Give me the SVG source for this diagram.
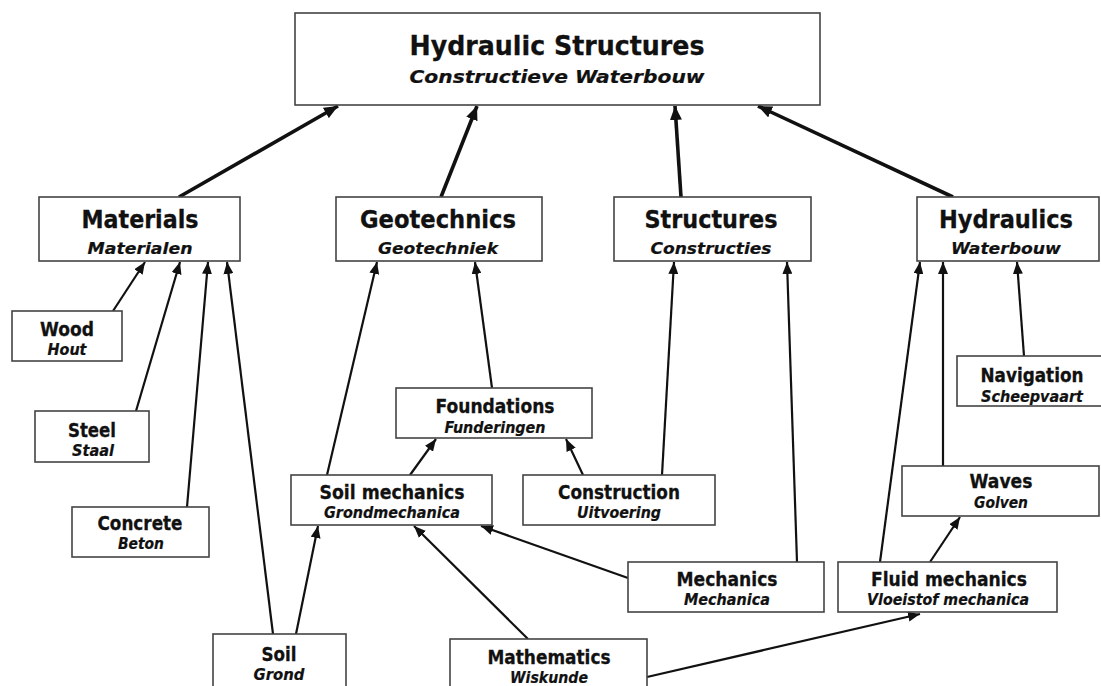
<svg xmlns="http://www.w3.org/2000/svg" width="1101" height="686" viewBox="0 0 1101 686">
<style>
.box{fill:#fff;stroke:#444;stroke-width:1.6}
.t{font-family:"DejaVu Sans",Verdana,sans-serif;font-weight:bold;fill:#111;stroke:#111;stroke-width:0.3;text-anchor:middle}
.s{font-family:"DejaVu Sans",Verdana,sans-serif;font-weight:bold;font-style:italic;fill:#111;stroke:#111;stroke-width:0.2;text-anchor:middle}
.c{stroke:#111;stroke-width:2.2;fill:none;marker-end:url(#ah)}
.ct{stroke:#111;stroke-width:3.6;fill:none;marker-end:url(#ahb)}
</style>
<defs>
<marker id="ah" markerUnits="userSpaceOnUse" markerWidth="12" markerHeight="10" refX="12" refY="5" orient="auto" viewBox="0 0 12 10"><path d="M0,0 L12,5 L0,10 z" fill="#111"/></marker>
<marker id="ahb" markerUnits="userSpaceOnUse" markerWidth="14" markerHeight="12" refX="14" refY="6" orient="auto" viewBox="0 0 14 12"><path d="M0,0 L14,6 L0,12 z" fill="#111"/></marker>
</defs>
<rect width="1101" height="686" fill="#fff"/>
<g id="connectors">
<line class="ct" x1="179" y1="197" x2="338" y2="106"/>
<line class="ct" x1="441" y1="197" x2="477" y2="106"/>
<line class="ct" x1="681" y1="197" x2="675" y2="106"/>
<line class="ct" x1="953" y1="197" x2="758" y2="106"/>
<line class="c" x1="113" y1="311" x2="145" y2="262"/>
<line class="c" x1="136" y1="411" x2="180" y2="262"/>
<line class="c" x1="187" y1="507" x2="208" y2="262"/>
<line class="c" x1="273" y1="634" x2="227" y2="262"/>
<line class="c" x1="296" y1="634" x2="318" y2="526"/>
<line class="c" x1="327" y1="475" x2="377" y2="262"/>
<line class="c" x1="410" y1="475" x2="436" y2="439"/>
<line class="c" x1="492" y1="388" x2="475" y2="262"/>
<line class="c" x1="583" y1="475" x2="566" y2="439"/>
<line class="c" x1="662" y1="475" x2="674" y2="262"/>
<line class="c" x1="797" y1="562" x2="787" y2="262"/>
<line class="c" x1="628" y1="578" x2="481" y2="526"/>
<line class="c" x1="528" y1="639" x2="414" y2="526"/>
<line class="c" x1="647" y1="677" x2="920" y2="614"/>
<line class="c" x1="880" y1="562" x2="920" y2="262"/>
<line class="c" x1="930" y1="562" x2="960" y2="517"/>
<line class="c" x1="943" y1="466" x2="943" y2="262"/>
<line class="c" x1="1024" y1="356" x2="1017" y2="262"/>
</g>
<g id="hydraulic-structures"><rect class="box" x="295" y="13" width="525" height="92"/>
<text class="t" x="557" y="55" font-size="26" textLength="295" lengthAdjust="spacingAndGlyphs">Hydraulic Structures</text>
<text class="s" x="557" y="83" font-size="17.5" textLength="295" lengthAdjust="spacingAndGlyphs">Constructieve Waterbouw</text></g>
<g id="materials"><rect class="box" x="39" y="197" width="201" height="64"/>
<text class="t" x="140" y="228" font-size="24" textLength="117" lengthAdjust="spacingAndGlyphs">Materials</text>
<text class="s" x="140" y="254" font-size="16" textLength="105" lengthAdjust="spacingAndGlyphs">Materialen</text></g>
<g id="geotechnics"><rect class="box" x="336" y="197" width="206" height="64"/>
<text class="t" x="438" y="228" font-size="24" textLength="156" lengthAdjust="spacingAndGlyphs">Geotechnics</text>
<text class="s" x="438" y="254" font-size="16" textLength="120" lengthAdjust="spacingAndGlyphs">Geotechniek</text></g>
<g id="structures"><rect class="box" x="614" y="197" width="197" height="64"/>
<text class="t" x="711" y="228" font-size="24" textLength="133" lengthAdjust="spacingAndGlyphs">Structures</text>
<text class="s" x="711" y="254" font-size="16" textLength="121" lengthAdjust="spacingAndGlyphs">Constructies</text></g>
<g id="hydraulics"><rect class="box" x="917" y="197" width="182" height="64"/>
<text class="t" x="1006" y="228" font-size="24" textLength="134" lengthAdjust="spacingAndGlyphs">Hydraulics</text>
<text class="s" x="1006" y="254" font-size="16" textLength="110" lengthAdjust="spacingAndGlyphs">Waterbouw</text></g>
<g id="wood"><rect class="box" x="12" y="311" width="110" height="50"/>
<text class="t" x="67" y="336" font-size="19" textLength="54" lengthAdjust="spacingAndGlyphs">Wood</text>
<text class="s" x="67" y="355" font-size="15" textLength="39" lengthAdjust="spacingAndGlyphs">Hout</text></g>
<g id="steel"><rect class="box" x="35" y="411" width="114" height="51"/>
<text class="t" x="92" y="437" font-size="19" textLength="48" lengthAdjust="spacingAndGlyphs">Steel</text>
<text class="s" x="93" y="456" font-size="15" textLength="42" lengthAdjust="spacingAndGlyphs">Staal</text></g>
<g id="concrete"><rect class="box" x="72" y="507" width="137" height="50"/>
<text class="t" x="140" y="530" font-size="19" textLength="85" lengthAdjust="spacingAndGlyphs">Concrete</text>
<text class="s" x="141" y="549" font-size="15" textLength="46" lengthAdjust="spacingAndGlyphs">Beton</text></g>
<g id="foundations"><rect class="box" x="396" y="388" width="196" height="50"/>
<text class="t" x="495" y="413" font-size="19" textLength="119" lengthAdjust="spacingAndGlyphs">Foundations</text>
<text class="s" x="495" y="433" font-size="15" textLength="101" lengthAdjust="spacingAndGlyphs">Funderingen</text></g>
<g id="soil-mechanics"><rect class="box" x="291" y="475" width="201" height="50"/>
<text class="t" x="392" y="499" font-size="19" textLength="145" lengthAdjust="spacingAndGlyphs">Soil mechanics</text>
<text class="s" x="392" y="518" font-size="15" textLength="136" lengthAdjust="spacingAndGlyphs">Grondmechanica</text></g>
<g id="construction"><rect class="box" x="523" y="475" width="192" height="50"/>
<text class="t" x="619" y="499" font-size="19" textLength="122" lengthAdjust="spacingAndGlyphs">Construction</text>
<text class="s" x="619" y="518" font-size="15" textLength="84" lengthAdjust="spacingAndGlyphs">Uitvoering</text></g>
<g id="navigation"><rect class="box" x="957" y="356" width="150" height="50"/>
<text class="t" x="1032" y="382" font-size="19" textLength="103" lengthAdjust="spacingAndGlyphs">Navigation</text>
<text class="s" x="1032" y="402" font-size="15" textLength="102" lengthAdjust="spacingAndGlyphs">Scheepvaart</text></g>
<g id="waves"><rect class="box" x="902" y="466" width="197" height="50"/>
<text class="t" x="1001" y="488" font-size="19" textLength="63" lengthAdjust="spacingAndGlyphs">Waves</text>
<text class="s" x="1001" y="508" font-size="15" textLength="54" lengthAdjust="spacingAndGlyphs">Golven</text></g>
<g id="mechanics"><rect class="box" x="628" y="562" width="196" height="50"/>
<text class="t" x="727" y="586" font-size="19" textLength="101" lengthAdjust="spacingAndGlyphs">Mechanics</text>
<text class="s" x="727" y="605" font-size="15" textLength="86" lengthAdjust="spacingAndGlyphs">Mechanica</text></g>
<g id="fluid-mechanics"><rect class="box" x="838" y="562" width="219" height="50"/>
<text class="t" x="949" y="586" font-size="19" textLength="156" lengthAdjust="spacingAndGlyphs">Fluid mechanics</text>
<text class="s" x="948" y="605" font-size="15" textLength="162" lengthAdjust="spacingAndGlyphs">Vloeistof mechanica</text></g>
<g id="soil"><rect class="box" x="213" y="634" width="133" height="60"/>
<text class="t" x="279" y="661" font-size="19" textLength="35" lengthAdjust="spacingAndGlyphs">Soil</text>
<text class="s" x="279" y="680" font-size="15" textLength="51" lengthAdjust="spacingAndGlyphs">Grond</text></g>
<g id="mathematics"><rect class="box" x="450" y="639" width="197" height="60"/>
<text class="t" x="549" y="664" font-size="19" textLength="123" lengthAdjust="spacingAndGlyphs">Mathematics</text>
<text class="s" x="549" y="683" font-size="15" textLength="78" lengthAdjust="spacingAndGlyphs">Wiskunde</text></g>
</svg>
